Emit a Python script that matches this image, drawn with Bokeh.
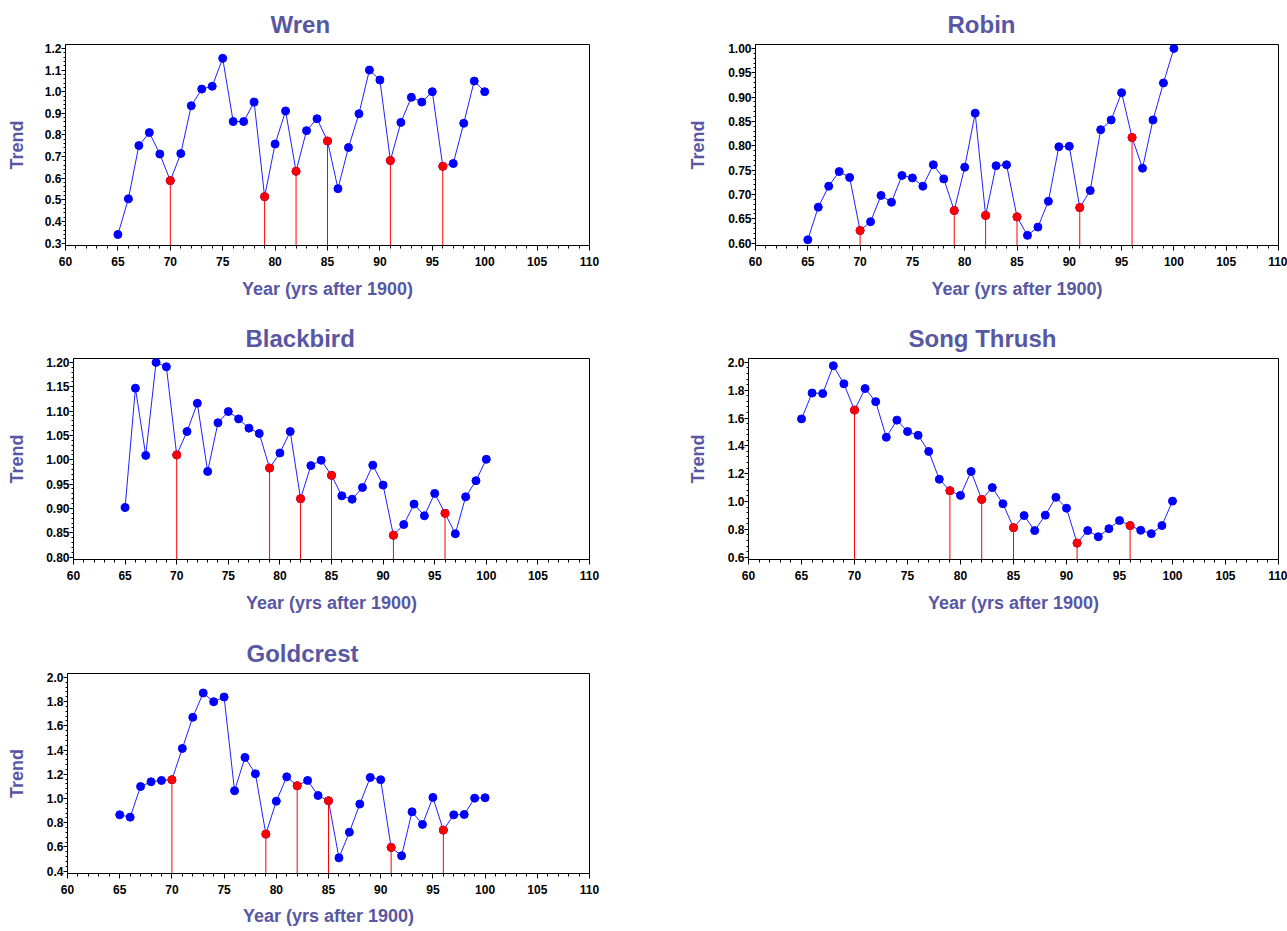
from bokeh.plotting import figure
from bokeh.layouts import column, row
from bokeh.models import Range1d, FixedTicker, ColumnDataSource, NumeralTickFormatter
from bokeh.embed import file_html
from bokeh.resources import INLINE

# ---------------- data ----------------
years = list(range(65, 101))
flagged_years = [70, 79, 82, 85, 91, 96]

wren = [0.34, 0.505, 0.751, 0.811, 0.712, 0.589, 0.714, 0.935, 1.012, 1.025,
        1.154, 0.862, 0.862, 0.952, 0.515, 0.758, 0.911, 0.632, 0.820, 0.875,
        0.772, 0.552, 0.742, 0.898, 1.100, 1.054, 0.682, 0.858, 0.974, 0.952,
        1.000, 0.655, 0.668, 0.854, 1.049, 1.000]

robin = [0.607, 0.674, 0.717, 0.747, 0.735, 0.626, 0.644, 0.698, 0.684, 0.739,
         0.734, 0.717, 0.761, 0.732, 0.667, 0.756, 0.867, 0.657, 0.759, 0.761,
         0.654, 0.616, 0.633, 0.686, 0.798, 0.799, 0.673, 0.708, 0.833, 0.853,
         0.909, 0.817, 0.754, 0.853, 0.929, 1.000]

blackbird = [0.902, 1.147, 1.009, 1.200, 1.191, 1.010, 1.058, 1.116, 0.976, 1.076,
             1.099, 1.084, 1.065, 1.054, 0.983, 1.014, 1.058, 0.920, 0.988, 0.999,
             0.968, 0.926, 0.919, 0.943, 0.989, 0.948, 0.845, 0.867, 0.909, 0.885,
             0.931, 0.890, 0.848, 0.924, 0.957, 1.001]

song_thrush = [1.594, 1.780, 1.776, 1.976, 1.846, 1.657, 1.812, 1.718, 1.462, 1.585,
               1.503, 1.476, 1.360, 1.160, 1.078, 1.044, 1.216, 1.015, 1.100, 0.984,
               0.812, 0.899, 0.791, 0.902, 1.030, 0.952, 0.701, 0.791, 0.747, 0.805,
               0.863, 0.827, 0.793, 0.769, 0.827, 1.003]

goldcrest = [0.865, 0.846, 1.099, 1.138, 1.149, 1.155, 1.413, 1.670, 1.871, 1.799,
             1.838, 1.064, 1.339, 1.204, 0.706, 0.978, 1.179, 1.105, 1.149, 1.025,
             0.981, 0.510, 0.722, 0.954, 1.174, 1.155, 0.596, 0.527, 0.890, 0.786,
             1.009, 0.739, 0.865, 0.868, 1.003, 1.006]

x_ticks = [60, 65, 70, 75, 80, 85, 90, 95, 100, 105, 110]

# name, values, y-min, y-max, y-step, tick format
panels = [
    ("Wren", wren, 0.3, 1.2, 0.1, "0.0"),
    ("Robin", robin, 0.60, 1.00, 0.05, "0.00"),
    ("Blackbird", blackbird, 0.80, 1.20, 0.05, "0.00"),
    ("Song Thrush", song_thrush, 0.6, 2.0, 0.2, "0.0"),
    ("Goldcrest", goldcrest, 0.4, 2.0, 0.2, "0.0"),
]

# ---------------- layout (pixels) ----------------
# left border, frame width, right border, top border, frame height, bottom border,
# title offset, y-label standoff, x-label standoff
geom = {
    "Wren":        (65, 524, 55, 44, 201, 69, 205, 15, 10),
    "Robin":       (111, 523, 9, 44, 201, 69, 192, 17, 10),
    "Blackbird":   (73, 516, 55, 44, 201, 70, 172, 16, 10),
    "Song Thrush": (104, 530, 9, 44, 201, 70, 160, 17, 10),
    "Goldcrest":   (67, 522, 55, 44, 200, 56, 179, 17, 9),
}

TITLE_COLOR = "#5757a3"
FONT = "Liberation Sans"


def make(name, vals, lo, hi, step, fmt):
    bl, fw, br, bt, fh, bb, toff, ystand, xstand = geom[name]
    span = hi - lo
    p = figure(frame_width=fw, frame_height=fh,
               min_border_left=bl, min_border_right=br,
               min_border_top=bt, min_border_bottom=bb,
               x_range=Range1d(60, 110),
               y_range=Range1d(lo - 0.012 * span, hi + 0.02 * span),
               output_backend="svg", toolbar_location=None,
               background_fill_color="white", border_fill_color="white")
    p.grid.visible = False
    p.outline_line_color = "black"
    p.outline_line_width = 1
    p.outline_line_alpha = 1

    # title
    p.title.text = name
    p.title.align = "left"
    p.title.offset = toff
    p.title.text_font = FONT
    p.title.text_font_size = "24px"
    p.title.text_font_style = "bold"
    p.title.text_color = TITLE_COLOR
    p.title.standoff = 14

    # ticks
    n = int(round(span / step))
    yt = [round(lo + i * step, 4) for i in range(n + 1)]
    ym = [round(lo + i * step / 5, 5) for i in range(n * 5 + 1)]
    p.yaxis.ticker = FixedTicker(ticks=yt, minor_ticks=ym)
    p.yaxis.formatter = NumeralTickFormatter(format=fmt)
    xm = list(range(60, 111))
    p.xaxis.ticker = FixedTicker(ticks=x_ticks, minor_ticks=xm)

    for ax in (p.xaxis[0], p.yaxis[0]):
        ax.axis_line_color = "black"
        ax.major_tick_line_color = "black"
        ax.minor_tick_line_color = "black"
        ax.major_tick_in = 0
        ax.minor_tick_in = 0
        ax.major_label_text_font = FONT
        ax.major_label_text_font_size = "12px"
        ax.major_label_text_font_style = "bold"
        ax.major_label_text_color = "black"
        ax.axis_label_text_font = FONT
        ax.axis_label_text_font_size = "18px"
        ax.axis_label_text_font_style = "bold"
        ax.axis_label_text_color = TITLE_COLOR

    p.xaxis.major_tick_out = 5
    p.xaxis.minor_tick_out = 3
    p.xaxis.major_label_standoff = 6
    p.xaxis.axis_label = "Year (yrs after 1900)"
    p.xaxis.axis_label_standoff = xstand

    p.yaxis.major_tick_out = 4
    p.yaxis.minor_tick_out = 2
    p.yaxis.major_label_standoff = 0
    p.yaxis.axis_label = "Trend"
    p.yaxis.axis_label_standoff = ystand

    src = ColumnDataSource(dict(year=years, val=vals))
    fy = [y for y in years if y in flagged_years]
    fv = [v for y, v in zip(years, vals) if y in flagged_years]
    base = [p.y_range.start] * len(fy)
    fsrc = ColumnDataSource(dict(year=fy, val=fv, base=base))

    p.line("year", "val", source=src, line_color="#2020ff", line_width=1)
    p.segment(x0="year", y0="base", x1="year", y1="val", source=fsrc,
              line_color="#ff0000", line_width=1)
    p.scatter("year", "val", source=src, size=8, fill_color="#0000ff",
              line_color="#0000ff")
    p.scatter("year", "val", source=fsrc, size=8, fill_color="#ff0000",
              line_color="#ff0000")
    return p


figs = {name: make(name, vals, lo, hi, st, fmt) for name, vals, lo, hi, st, fmt in panels}

layout = column(
    row(figs["Wren"], figs["Robin"], spacing=0),
    row(figs["Blackbird"], figs["Song Thrush"], spacing=0),
    row(figs["Goldcrest"], spacing=0),
    spacing=0,
)

open("out.html", "w").write(file_html(layout, INLINE))
